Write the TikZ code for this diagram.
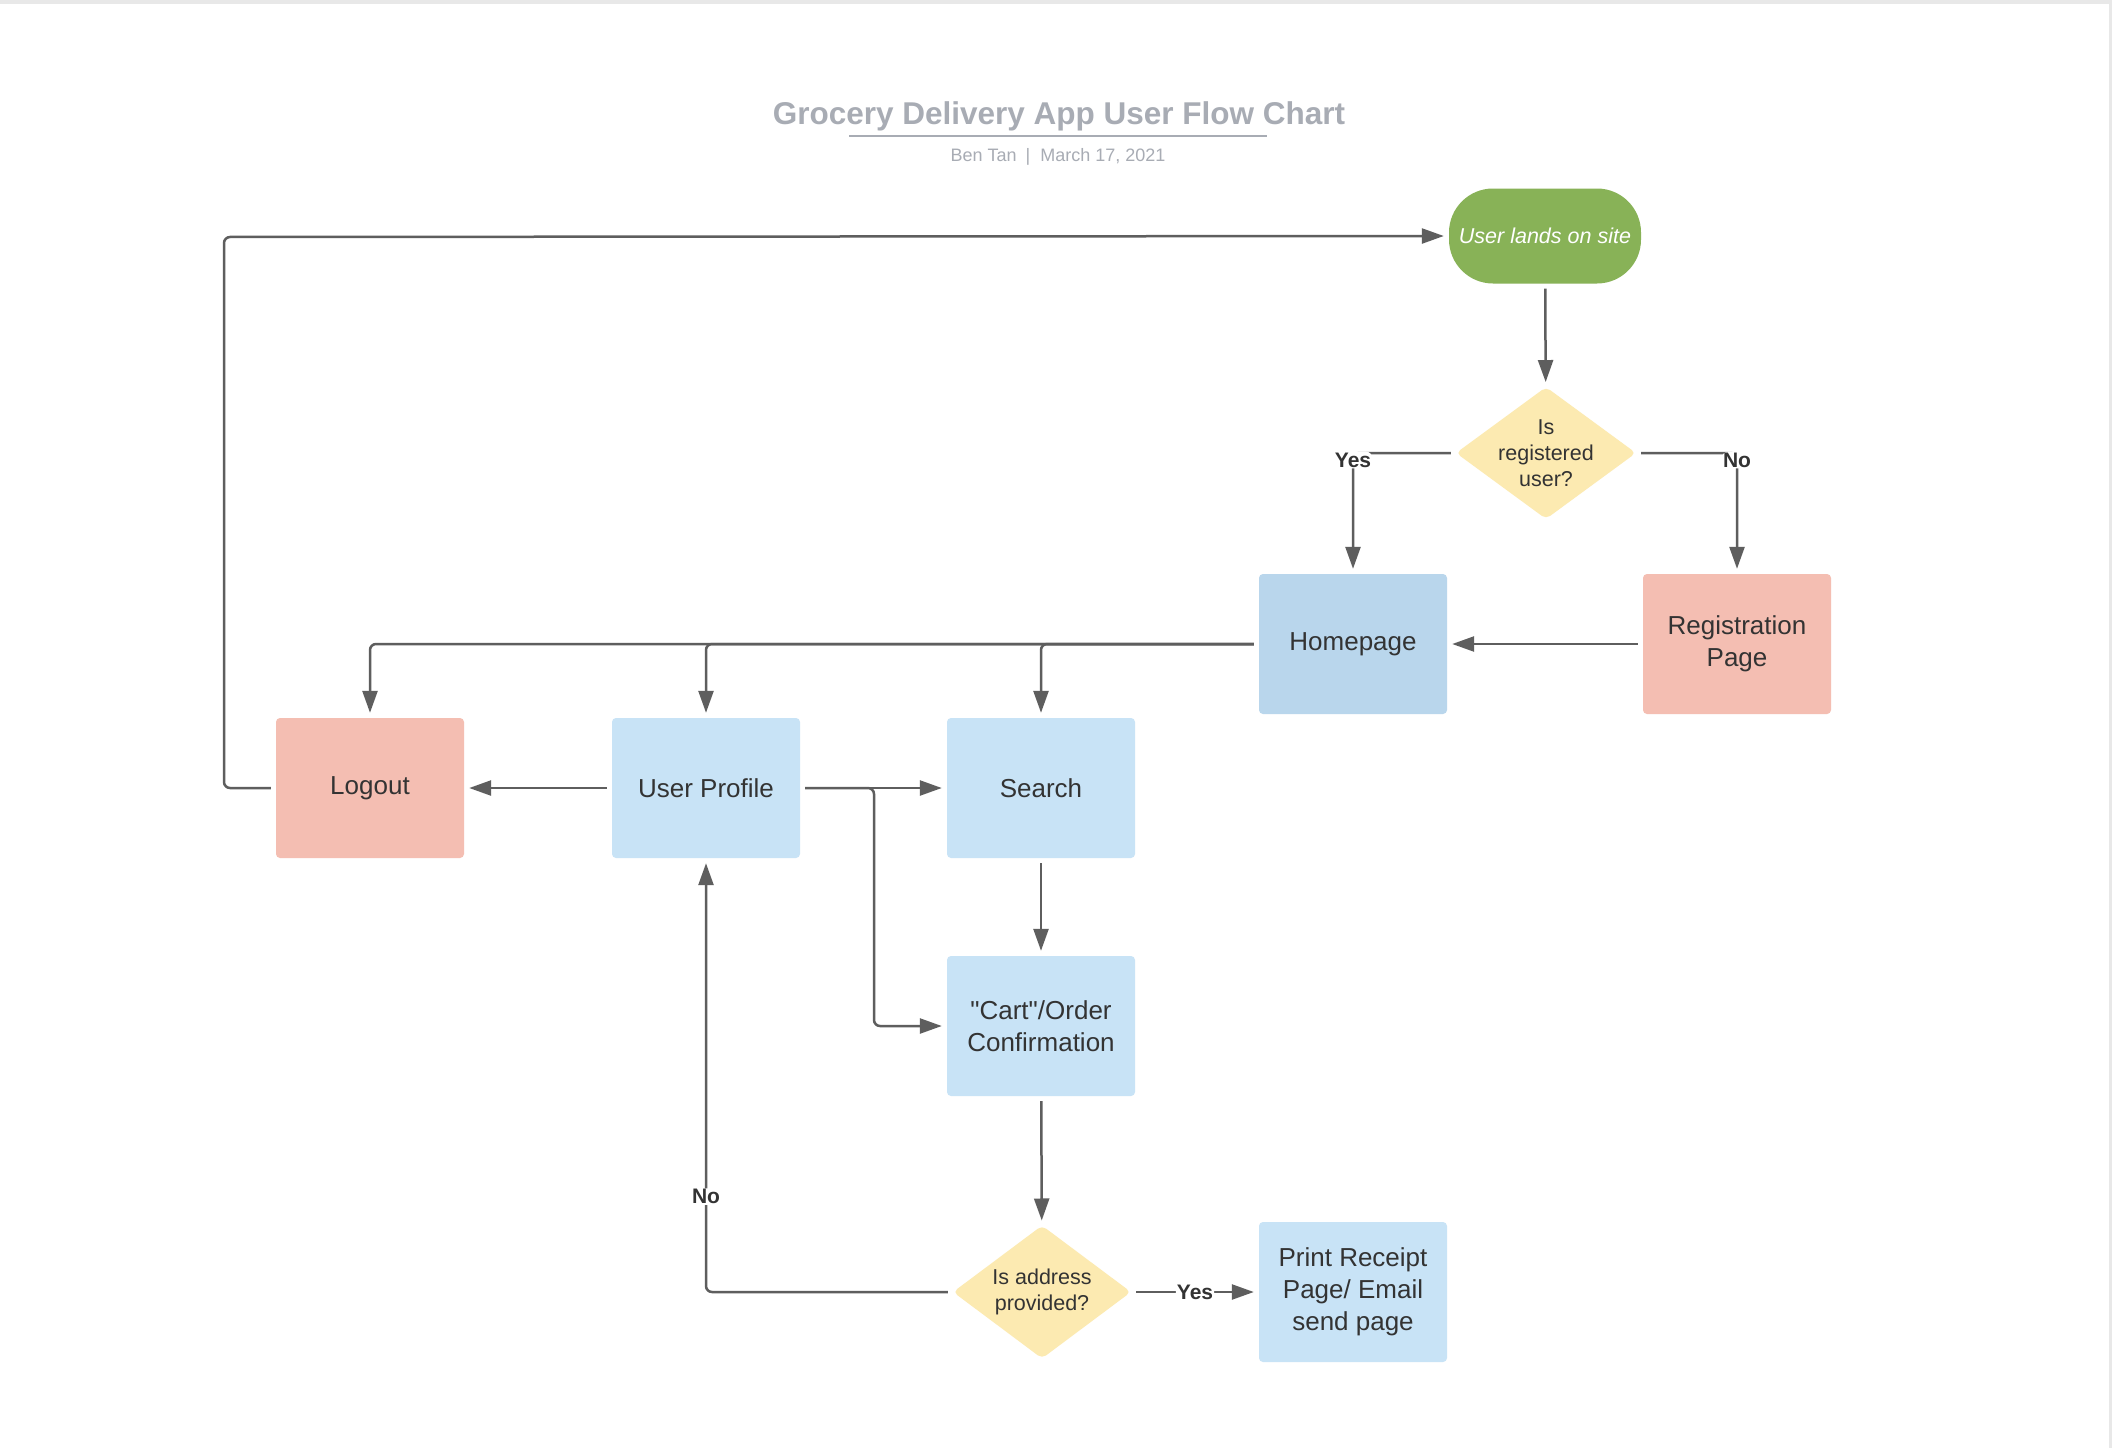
\documentclass[tikz,border=0pt]{standalone}
\usepackage{fontspec}
\setmainfont{Liberation Sans}
\newfontfamily\plainfont{Liberation Sans}
\usetikzlibrary{arrows.meta, shapes.geometric}
\definecolor{lineGray}{RGB}{94,94,94}
\definecolor{textDark}{RGB}{51,51,51}
\definecolor{titleGray}{RGB}{168,172,180}
\definecolor{startGreen}{RGB}{136,178,87}
\definecolor{decYellow}{RGB}{252,234,177}
\definecolor{homeBlue}{RGB}{185,214,236}
\definecolor{stepBlue}{RGB}{200,227,246}
\definecolor{stopPink}{RGB}{244,190,178}
\definecolor{frameGray}{RGB}{232,232,232}

\begin{document}
\begin{tikzpicture}[x=1pt, y=-1pt, >={Triangle[length=22pt, width=15pt]},
  box/.style={rectangle, rounded corners=4pt, minimum width=188pt, minimum height=140pt, inner sep=0pt, align=center, text=textDark, font=\fontsize{26}{32}\selectfont},
  decision/.style={diamond, rounded corners=5pt, fill=decYellow, inner sep=0pt, minimum width=180pt, minimum height=132pt},
  decisiontext/.style={align=center, text=textDark, font=\fontsize{21.5}{26}\selectfont},
  flow/.style={->, line width=2.5pt, lineGray, rounded corners=6pt, shorten <=5pt, shorten >=5pt},
  answer/.style={fill=white, inner sep=1pt, text=textDark, font=\bfseries\fontsize{21}{21}\selectfont}]
  \useasboundingbox (0,0) rectangle (2112,1448);
  \fill[white] (0,0) rectangle (2112,1448);
  \fill[frameGray] (0,0) rectangle (2112,4);
  \fill[frameGray] (2109,0) rectangle (2112,1448);

  \node[anchor=base, text=titleGray, font=\bfseries\fontsize{31.5}{31.5}\selectfont] (title) at (1059,124) {Grocery Delivery App User Flow Chart};
  \draw[titleGray, line width=2.5pt] (849,136) -- (1267,136);
  \node[anchor=base, text=titleGray, font=\fontsize{18}{18}\selectfont] (byline) at (1058,161) {Ben Tan\hspace{9pt}|\hspace{10pt}March 17, 2021};

  \node[rectangle, rounded corners=44pt, fill=startGreen, minimum width=192pt, minimum height=95pt, text=white, font=\itshape\fontsize{21.5}{21.5}\selectfont] (start) at (1545,236) {User lands on site};
  \node[decision, label={[decisiontext]center:Is\\registered\\user?}] (isreg) at (1546,453) {};
  \node[box, fill=homeBlue] (home) at (1353,644) {Homepage};
  \node[box, fill=stopPink] (reg) at (1737,644) {Registration\\Page};
  \node[box, fill=stopPink] (logout) at (370,788) {Logout};
  \node[box, fill=stepBlue] (profile) at (706,788) {User Profile};
  \node[box, fill=stepBlue] (search) at (1041,788) {Search};
  \node[box, fill=stepBlue] (cart) at (1041,1026) {{\plainfont"Cart"}/Order\\Confirmation};
  \node[decision, minimum width=178pt, minimum height=133pt, label={[decisiontext]center:Is address\\provided?}] (addr) at (1042,1292) {};
  \node[box, fill=stepBlue] (print) at (1353,1292) {Print Receipt\\Page/ Email\\send page};
  \coordinate (split) at (874,788);
  \coordinate (loop) at (224,237);

  \draw[flow] (start) -- (isreg);
  \draw[flow] (isreg.west) -| node[answer, yshift=-7pt] {Yes} (home.north);
  \draw[flow] (isreg.east) -| node[answer, yshift=-7pt] {No} (reg.north);
  \draw[flow] (reg) -- (home);
  \draw[flow] (home.west) -| (logout.north);
  \draw[flow] (home.west) -| (profile.north);
  \draw[flow] (home.west) -| (search.north);
  \draw[flow] (profile) -- (logout);
  \draw[flow] (profile) -- (search);
  \draw[flow] (profile.east) -- (split) |- (cart.west);
  \draw[flow] (search) -- (cart);
  \draw[flow] (cart) -- (addr);
  \draw[flow] (addr.east) -- node[answer] {Yes} (print.west);
  \draw[flow] (addr.west) -| node[answer, pos=0.61] {No} (profile.south);
  \draw[flow] (logout.west) -| (loop) -- (start.west);
\end{tikzpicture}
\end{document}
